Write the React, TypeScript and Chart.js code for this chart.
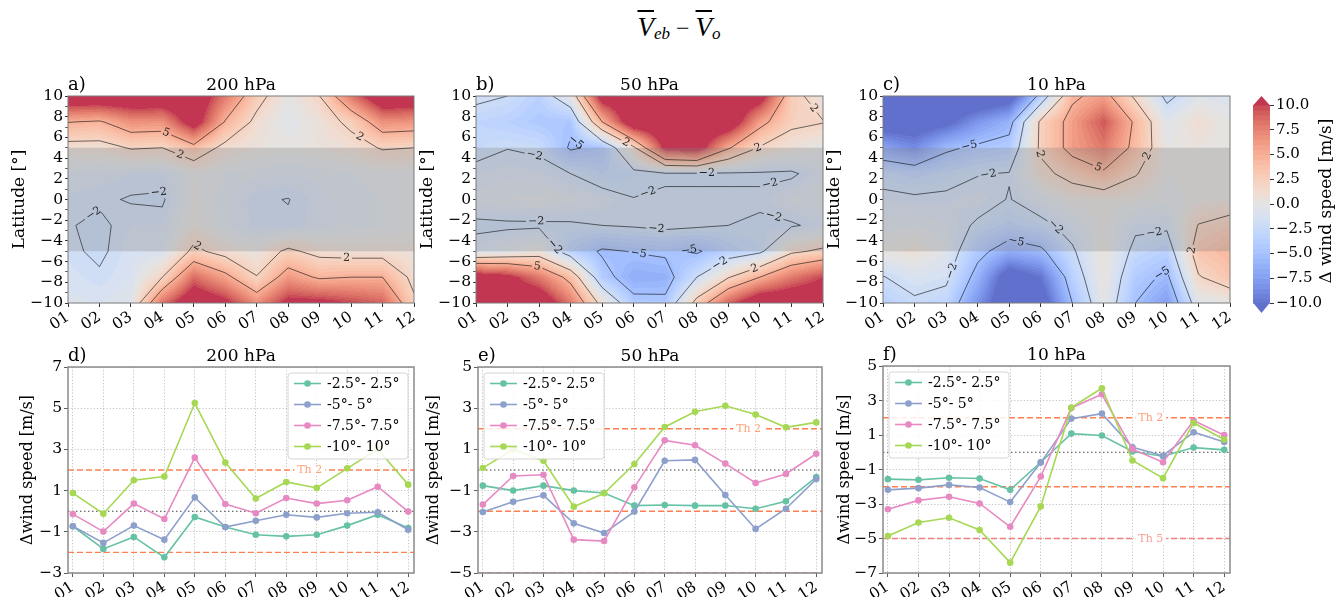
import React, { useEffect, useRef } from 'react';
import { Chart, registerables } from 'chart.js';

Chart.register(...registerables);
Chart.defaults.font.family = "'DejaVu Serif', serif";
Chart.defaults.color = '#000';

// ------------------------------------------------------------------ data
const MONTHS = [1, 2, 3, 4, 5, 6, 7, 8, 9, 10, 11, 12];
const MONTH_LABELS = ['01', '02', '03', '04', '05', '06', '07', '08', '09', '10', '11', '12'];
const LATITUDES = [-10, -7.5, -5, -2.5, 0, 2.5, 5, 7.5, 10];
const LATITUDE_TICKS = [-10, -9, -8, -7, -6, -5, -4, -3, -2, -1, 0, 1, 2, 3, 4, 5, 6, 7, 8, 9, 10];
const CONTOUR_LEVELS = [-5, -2, 2, 5];
const COLORBAR_TICKS = [-10, -7.5, -5, -2.5, 0, 2.5, 5, 7.5, 10];
const COLOR_MIN = -10;
const COLOR_MAX = 10;
const COLOR_STEP = 0.5;
const EQUATORIAL_BAND = [-5, 5];

// rows follow LATITUDES (south -> north), columns follow MONTHS
const FIELD_200HPA = [
  [-0.8, -1.0, -0.5, 8.4, 13, 11, 7, 11, 11, 10, 9, 2.5],
  [-1.2, -1.8, -1.0, 2.0, 8.6, 5.8, 2.1, 6.4, 4.6, 5.0, 5.0, 1.2],
  [-1.7, -2.3, -1.2, -1.0, 2.6, 1.0, 0.4, 2.5, 1.2, 0.9, 0.9, 0.8],
  [-1.9, -2.3, -1.5, -1.5, 0.5, -0.8, -1.7, -1.8, -1.2, -0.8, -0.5, -0.2],
  [-1.6, -1.8, -2.1, -2.2, 0.2, -0.8, -1.8, -2.05, -1.2, -0.8, -0.5, -0.5],
  [-1.0, -1.2, -1.5, -1.5, 0.0, -0.5, -0.8, -1.0, -0.8, -0.5, -0.3, -0.3],
  [1.0, 1.0, 2.2, 2.0, 4.0, 1.2, 0.5, 0.2, 0.5, 1.0, 2.2, 2.0],
  [5.1, 4.7, 6.9, 6.7, 12, 4.8, 1.3, -0.5, 0.8, 2.6, 6.9, 6.6],
  [13, 13, 13, 13, 13, 8, 3, 0.0, 2.0, 8.1, 13, 13],
];
const FIELD_50HPA = [
  [13, 13, 13, 8, 1, -4.2, -4.4, 3, 9, 13, 13, 13],
  [12, 11, 8, 4, -4, -6.5, -6.2, -2, 1.8, 5, 8, 10],
  [-1.2, -0.5, 0.5, -3.5, -5.3, -4.9, -4.6, -5.3, -3.5, -2.5, 1.5, 2.5],
  [-2.4, -2.3, -2.3, -2.2, -2.0, -1.8, -1.5, -1.7, -2.0, -2.2, -2.2, -1.5],
  [-0.8, -0.5, -0.3, -0.8, -1.2, -1.95, -1.8, -1.8, -1.8, -1.8, -0.8, -0.5],
  [-1.5, -1.2, -1.4, -2.0, -3.0, -2.6, -2.2, -2.2, -2.2, -2.2, -2.3, -1.0],
  [-2.6, -2.05, -2.3, -5.3, -4.5, 1.5, 11, 12, 5.3, 1.8, 0.8, 0.0],
  [-3.0, -3.5, -4.3, -4.5, 5, 13, 13, 13, 13, 6, 2.5, 2.1],
  [-1.5, -2.0, -3.5, 0, 12, 13, 13, 13, 13, 12, 3, 0.5],
];
const FIELD_10HPA = [
  [-3.5, -2.4, -3.0, -8, -13, -12, -5, 0, -5, -7.5, -0.5, 0],
  [-2.1, -1.0, -1.5, -6, -12, -10, -3.5, 0.5, -4, -5.5, 1.8, 3.5],
  [0.3, 0.8, -0.5, -4.2, -6.4, -5.5, -2.3, 0.5, -2.6, -3.5, 3.5, 4.5],
  [-0.8, -0.5, -1.0, -2.3, -3.2, -2.6, -1.2, 0.2, -1.6, -1.6, 2.1, 3.0],
  [-1.5, -1.7, -1.6, -1.2, -2.1, -0.8, 0.3, 0.5, 0.2, -0.3, 0.2, 0.5],
  [-2.75, -3.3, -2.8, -2.1, -1.9, 1.2, 3.0, 4.5, 2.2, 0.0, 0.2, 0.2],
  [-7.1, -8.6, -5.5, -4.5, -4.0, 2.5, 6.0, 8.0, 4.2, 0.0, 0.5, 0.0],
  [-12, -12, -11, -8, -6, 2.5, 6.0, 9.5, 4.5, -0.5, 1.2, 0.0],
  [-13, -13, -13, -13, -12, -4, 4.5, 6.0, 1.5, -2.6, -0.5, -1.0],
];

const SERIES_LABELS = ['-2.5°- 2.5°', '-5°- 5°', '-7.5°- 7.5°', '-10°- 10°'];

const HPA200_LAT2_5 = [-0.73, -1.83, -1.25, -2.24, -0.28, -0.77, -1.14, -1.22, -1.14, -0.70, -0.17, -0.82];
const HPA200_LAT5 = [-0.73, -1.54, -0.70, -1.38, 0.67, -0.77, -0.46, -0.17, -0.30, -0.10, -0.05, -0.90];
const HPA200_LAT7_5 = [-0.14, -0.99, 0.37, -0.38, 2.60, 0.35, -0.10, 0.64, 0.37, 0.53, 1.19, -0.02];
const HPA200_LAT10 = [0.88, -0.12, 1.50, 1.68, 5.25, 2.36, 0.62, 1.42, 1.13, 2.08, 3.02, 1.29];

const HPA50_LAT2_5 = [-0.76, -1.00, -0.76, -1.00, -1.12, -1.73, -1.70, -1.73, -1.72, -1.88, -1.52, -0.34];
const HPA50_LAT5 = [-2.04, -1.54, -1.23, -2.59, -3.06, -2.02, 0.45, 0.49, -1.21, -2.86, -1.88, -0.44];
const HPA50_LAT7_5 = [-1.68, -0.29, -0.23, -3.38, -3.45, -0.84, 1.44, 1.20, 0.31, -0.63, -0.19, 0.79];
const HPA50_LAT10 = [0.10, 0.99, 0.45, -1.78, -1.13, 0.29, 2.09, 2.83, 3.12, 2.69, 2.07, 2.31];

const HPA10_LAT2_5 = [-1.56, -1.60, -1.48, -1.52, -2.18, -0.58, 1.08, 0.97, 0.04, -0.23, 0.27, 0.14];
const HPA10_LAT5 = [-2.18, -2.08, -1.89, -2.04, -2.89, -0.60, 1.95, 2.24, 0.29, -0.20, 1.16, 0.60];
const HPA10_LAT7_5 = [-3.30, -2.79, -2.58, -2.97, -4.32, -1.41, 2.57, 3.36, 0.18, -0.58, 1.84, 0.99];
const HPA10_LAT10 = [-4.86, -4.07, -3.80, -4.51, -6.40, -3.14, 2.59, 3.71, -0.48, -1.50, 1.70, 0.74];

const THRESHOLDS_200HPA = [2, -2];
const THRESHOLDS_50HPA = [2, -2, -5];
const THRESHOLDS_10HPA = [2, -2, -5];
const TH_LABELS_200HPA = [{ value: 2, text: 'Th 2', at: 8.77 }];
const TH_LABELS_50HPA = [{ value: 2, text: 'Th 2', at: 9.77 }];
const TH_LABELS_10HPA = [{ value: 2, text: 'Th 2', at: 9.6 }, { value: -5, text: 'Th 5', at: 9.6 }];

// ------------------------------------------------------------------ style / layout
const SERIES_COLORS = ['#66c2a5', '#8da0cb', '#e78ac3', '#a6d854'];
const TH_COLOR = (v: number) => (Math.abs(v) === 2 ? '#ff7f50' : '#f08080');
const TH_TEXT_COLOR = (v: number) => (Math.abs(v) === 2 ? '#ffa07a' : '#f4a09a');
const X_MIN_LINE = 0.84;
const X_MAX_LINE = 12.19;
const FILL_ALPHA = 0.8;

const PAD_L = 75;
const PAD_T = 40;
const PAD_R = 15;
const PAD_B = 45;

const COOLWARM = [
  [59, 76, 192], [68, 90, 204], [77, 104, 215], [87, 117, 225], [98, 130, 234], [108, 142, 241],
  [119, 154, 247], [130, 165, 251], [141, 176, 254], [152, 185, 255], [163, 194, 255], [174, 201, 253],
  [184, 208, 249], [194, 213, 244], [204, 217, 238], [213, 219, 230], [221, 221, 221], [229, 216, 209],
  [236, 211, 197], [241, 204, 185], [245, 196, 173], [247, 187, 160], [247, 177, 148], [247, 166, 135],
  [244, 154, 123], [241, 141, 111], [236, 127, 99], [229, 112, 88], [222, 96, 77], [213, 80, 66],
  [203, 62, 56], [192, 40, 47], [180, 4, 38],
];

function coolwarm(t: number): number[] {
  const x = Math.max(0, Math.min(1, t)) * (COOLWARM.length - 1);
  const i = Math.min(COOLWARM.length - 2, Math.floor(x));
  const f = x - i;
  const a = COOLWARM[i], b = COOLWARM[i + 1];
  return [a[0] + (b[0] - a[0]) * f, a[1] + (b[1] - a[1]) * f, a[2] + (b[2] - a[2]) * f];
}

const N_BINS = Math.round((COLOR_MAX - COLOR_MIN) / COLOR_STEP);
function levelColor(v: number): number[] {
  let c: number[];
  if (v >= COLOR_MAX) c = coolwarm(1);
  else if (v < COLOR_MIN) c = coolwarm(0);
  else {
    const idx = Math.min(N_BINS - 1, Math.floor((v - COLOR_MIN) / COLOR_STEP));
    c = coolwarm((idx + 1) / (N_BINS + 1));
  }
  return c.map((ch) => Math.round(ch * FILL_ALPHA + 255 * (1 - FILL_ALPHA)));
}

const fmt = (v: number, digits = 0) => (v < 0 ? '\u2212' : '') + Math.abs(v).toFixed(digits);

function findCell(arr: number[], v: number): [number, number] {
  let i = 0;
  while (i < arr.length - 2 && v > arr[i + 1]) i++;
  const t = (v - arr[i]) / (arr[i + 1] - arr[i]);
  return [i, Math.max(0, Math.min(1, t))];
}

function sampleField(field: number[][], m: number, lat: number) {
  const [i, tx] = findCell(MONTHS, m);
  const [j, ty] = findCell(LATITUDES, lat);
  const a = field[j][i], b = field[j][i + 1], c = field[j + 1][i], d = field[j + 1][i + 1];
  return a * (1 - tx) * (1 - ty) + b * tx * (1 - ty) + c * (1 - tx) * ty + d * tx * ty;
}

type Pt = [number, number];

function contourSegments(field: number[][], level: number): [Pt, Pt][] {
  const segs: [Pt, Pt][] = [];
  const up = (v: number) => v >= level;
  const edge = (i1: number, j1: number, i2: number, j2: number): Pt => {
    const a = field[j1][i1], b = field[j2][i2];
    const t = (level - a) / (b - a);
    return [MONTHS[i1] + (MONTHS[i2] - MONTHS[i1]) * t, LATITUDES[j1] + (LATITUDES[j2] - LATITUDES[j1]) * t];
  };
  for (let j = 0; j < LATITUDES.length - 1; j++) {
    for (let i = 0; i < MONTHS.length - 1; i++) {
      const v00 = field[j][i], v10 = field[j][i + 1], v01 = field[j + 1][i], v11 = field[j + 1][i + 1];
      const eB = up(v00) !== up(v10) ? edge(i, j, i + 1, j) : null;
      const eR = up(v10) !== up(v11) ? edge(i + 1, j, i + 1, j + 1) : null;
      const eT = up(v01) !== up(v11) ? edge(i, j + 1, i + 1, j + 1) : null;
      const eL = up(v00) !== up(v01) ? edge(i, j, i, j + 1) : null;
      const list = [eB, eR, eT, eL].filter(Boolean) as Pt[];
      if (list.length === 2) segs.push([list[0], list[1]]);
      else if (list.length === 4) {
        const c = (v00 + v10 + v01 + v11) / 4;
        if (up(c) === up(v00)) {
          segs.push([eB as Pt, eR as Pt]);
          segs.push([eT as Pt, eL as Pt]);
        } else {
          segs.push([eB as Pt, eL as Pt]);
          segs.push([eR as Pt, eT as Pt]);
        }
      }
    }
  }
  return segs;
}

function chainSegments(segs: [Pt, Pt][]): Pt[][] {
  const key = (p: Pt) => p[0].toFixed(5) + ',' + p[1].toFixed(5);
  const map = new Map<string, number[]>();
  segs.forEach((s, i) => {
    s.forEach((p) => {
      const k = key(p);
      if (!map.has(k)) map.set(k, []);
      map.get(k)!.push(i);
    });
  });
  const used = segs.map(() => false);
  const lines: Pt[][] = [];
  const nextFrom = (p: Pt): Pt | null => {
    const cand = map.get(key(p)) || [];
    for (const idx of cand) {
      if (!used[idx]) {
        used[idx] = true;
        const s = segs[idx];
        return key(s[0]) === key(p) ? s[1] : s[0];
      }
    }
    return null;
  };
  const order = segs.map((_, i) => i).sort((a, b) => {
    const da = Math.min(...segs[a].map((p) => map.get(key(p))!.length));
    const db = Math.min(...segs[b].map((p) => map.get(key(p))!.length));
    return da - db;
  });
  for (const i of order) {
    if (used[i]) continue;
    used[i] = true;
    const line: Pt[] = [segs[i][0], segs[i][1]];
    let n = nextFrom(line[line.length - 1]);
    while (n) { line.push(n); n = nextFrom(n); }
    n = nextFrom(line[0]);
    while (n) { line.unshift(n); n = nextFrom(n); }
    lines.push(line);
  }
  return lines;
}

function strokeWithGaps(ctx: CanvasRenderingContext2D, pts: Pt[], gaps: [number, number][]) {
  let acc = 0;
  ctx.beginPath();
  for (let k = 0; k < pts.length - 1; k++) {
    const [x0, y0] = pts[k], [x1, y1] = pts[k + 1];
    const len = Math.hypot(x1 - x0, y1 - y0);
    if (len === 0) continue;
    let pieces: [number, number][] = [[acc, acc + len]];
    for (const [g0, g1] of gaps) {
      const out: [number, number][] = [];
      for (const [a, b] of pieces) {
        if (g1 <= a || g0 >= b) { out.push([a, b]); continue; }
        if (g0 > a) out.push([a, g0]);
        if (g1 < b) out.push([g1, b]);
      }
      pieces = out;
    }
    for (const [a, b] of pieces) {
      const ta = (a - acc) / len, tb = (b - acc) / len;
      ctx.moveTo(x0 + (x1 - x0) * ta, y0 + (y1 - y0) * ta);
      ctx.lineTo(x0 + (x1 - x0) * tb, y0 + (y1 - y0) * tb);
    }
    acc += len;
  }
  ctx.stroke();
}

// ------------------------------------------------------------------ plugins
function heatmapPlugin(field: number[][]) {
  return {
    id: 'heatmap',
    beforeDatasetsDraw(chart: any) {
      const { ctx, chartArea: ca, scales } = chart;
      const xs = scales.x, ys = scales.y;
      const L = Math.round(ca.left), T = Math.round(ca.top);
      const W = Math.round(ca.right) - L, H = Math.round(ca.bottom) - T;
      const img = ctx.createImageData(W, H);
      for (let py = 0; py < H; py++) {
        const lat = ys.getValueForPixel(T + py + 0.5);
        for (let px = 0; px < W; px++) {
          const m = xs.getValueForPixel(L + px + 0.5);
          const c = levelColor(sampleField(field, m, lat));
          const k = (py * W + px) * 4;
          img.data[k] = c[0]; img.data[k + 1] = c[1]; img.data[k + 2] = c[2]; img.data[k + 3] = 255;
        }
      }
      ctx.putImageData(img, L, T);

      ctx.save();
      ctx.beginPath();
      ctx.rect(ca.left, ca.top, ca.right - ca.left, ca.bottom - ca.top);
      ctx.clip();
      // equatorial band
      const yb1 = ys.getPixelForValue(EQUATORIAL_BAND[1]);
      const yb0 = ys.getPixelForValue(EQUATORIAL_BAND[0]);
      ctx.fillStyle = 'rgba(128,128,128,0.3)';
      ctx.fillRect(ca.left, yb1, ca.right - ca.left, yb0 - yb1);

      // contour lines + labels
      ctx.font = "11px 'DejaVu Serif'";
      ctx.textAlign = 'center';
      ctx.textBaseline = 'middle';
      const placed: Pt[] = [];
      for (const level of CONTOUR_LEVELS) {
        const lines = chainSegments(contourSegments(field, level));
        const text = fmt(level);
        const tw = ctx.measureText(text).width;
        for (const line of lines) {
          const pts: Pt[] = line.map((p) => [xs.getPixelForValue(p[0]), ys.getPixelForValue(p[1])] as Pt);
          const cum: number[] = [0];
          for (let k = 1; k < pts.length; k++) cum.push(cum[k - 1] + Math.hypot(pts[k][0] - pts[k - 1][0], pts[k][1] - pts[k - 1][1]));
          const total = cum[cum.length - 1];
          const gaps: [number, number][] = [];
          const labels: { x: number; y: number; a: number }[] = [];
          if (total > 30) {
            const n = Math.max(1, Math.floor(total / 120));
            for (let q = 0; q < n; q++) {
              const s = (total * (q + 0.5)) / n;
              let k = 0;
              while (k < cum.length - 2 && cum[k + 1] < s) k++;
              const segLen = cum[k + 1] - cum[k] || 1;
              const f = (s - cum[k]) / segLen;
              const x = pts[k][0] + (pts[k + 1][0] - pts[k][0]) * f;
              const y = pts[k][1] + (pts[k + 1][1] - pts[k][1]) * f;
              if (x < ca.left + 8 || x > ca.right - 8 || y < ca.top + 7 || y > ca.bottom - 7) continue;
              if (placed.some((p) => Math.hypot(p[0] - x, p[1] - y) < 26)) continue;
              let a = Math.atan2(pts[k + 1][1] - pts[k][1], pts[k + 1][0] - pts[k][0]);
              if (a > Math.PI / 2) a -= Math.PI;
              if (a < -Math.PI / 2) a += Math.PI;
              placed.push([x, y]);
              labels.push({ x, y, a });
              gaps.push([s - tw / 2 - 2, s + tw / 2 + 2]);
            }
          }
          ctx.strokeStyle = 'rgba(0,0,0,0.7)';
          ctx.lineWidth = 0.8;
          strokeWithGaps(ctx, pts, gaps);
          ctx.fillStyle = '#222';
          for (const lb of labels) {
            ctx.save();
            ctx.translate(lb.x, lb.y);
            ctx.rotate(lb.a);
            ctx.fillText(text, 0, 0);
            ctx.restore();
          }
        }
      }
      ctx.restore();
    },
  };
}

function framePlugin(color: string, width: number) {
  return {
    id: 'frame',
    afterDatasetsDraw(chart: any) {
      const { ctx, chartArea: ca } = chart;
      ctx.save();
      ctx.strokeStyle = color;
      ctx.lineWidth = width;
      ctx.strokeRect(ca.left, ca.top, ca.right - ca.left, ca.bottom - ca.top);
      ctx.restore();
    },
  };
}

function panelTitlePlugin(tag: string, title: string) {
  return {
    id: 'panelTitle',
    afterDraw(chart: any) {
      const { ctx, chartArea: ca } = chart;
      ctx.save();
      ctx.fillStyle = '#000';
      ctx.textBaseline = 'alphabetic';
      ctx.font = "17px 'DejaVu Serif'";
      ctx.textAlign = 'center';
      ctx.fillText(title, (ca.left + ca.right) / 2, ca.top - 6);
      ctx.textAlign = 'left';
      ctx.font = "18px 'DejaVu Serif'";
      ctx.fillText(tag, ca.left, ca.top - 6);
      ctx.restore();
    },
  };
}

function thresholdLabelPlugin(labels: { value: number; text: string; at: number }[]) {
  return {
    id: 'thLabels',
    afterDatasetsDraw(chart: any) {
      const { ctx, scales } = chart;
      ctx.save();
      ctx.font = "11px 'DejaVu Serif'";
      ctx.textAlign = 'center';
      ctx.textBaseline = 'middle';
      for (const lb of labels) {
        const x = scales.x.getPixelForValue(lb.at);
        const y = scales.y.getPixelForValue(lb.value);
        const w = ctx.measureText(lb.text).width;
        ctx.fillStyle = '#fff';
        ctx.fillRect(x - w / 2 - 3, y - 6, w + 6, 12);
        ctx.fillStyle = TH_TEXT_COLOR(lb.value);
        ctx.fillText(lb.text, x, y + 0.5);
      }
      ctx.restore();
    },
  };
}

function insetLegendPlugin(corner: 'left' | 'right') {
  return {
    id: 'insetLegend',
    afterDraw(chart: any) {
      const { ctx, chartArea: ca } = chart;
      const w = 120, h = 86, pad = 6;
      const x0 = corner === 'right' ? ca.right - pad - w : ca.left + pad;
      const y0 = ca.top + pad;
      ctx.save();
      ctx.beginPath();
      ctx.roundRect(x0, y0, w, h, 3);
      ctx.fillStyle = 'rgba(255,255,255,0.85)';
      ctx.fill();
      ctx.strokeStyle = '#d6d6d6';
      ctx.lineWidth = 1;
      ctx.stroke();
      ctx.font = "14px 'DejaVu Serif'";
      ctx.textAlign = 'left';
      ctx.textBaseline = 'middle';
      SERIES_LABELS.forEach((lab, k) => {
        const yy = y0 + 10.5 + k * 21;
        ctx.strokeStyle = SERIES_COLORS[k];
        ctx.lineWidth = 1.6;
        ctx.beginPath();
        ctx.moveTo(x0 + 6, yy);
        ctx.lineTo(x0 + 33, yy);
        ctx.stroke();
        ctx.fillStyle = SERIES_COLORS[k];
        ctx.beginPath();
        ctx.arc(x0 + 19.5, yy, 3.3, 0, Math.PI * 2);
        ctx.fill();
        ctx.fillStyle = '#000';
        ctx.fillText(lab, x0 + 39, yy + 1);
      });
      ctx.restore();
    },
  };
}

function colorbarPlugin() {
  return {
    id: 'colorbar',
    beforeDatasetsDraw(chart: any) {
      const { ctx, chartArea: ca, scales } = chart;
      const y = scales.y;
      ctx.save();
      for (let k = 0; k < N_BINS; k++) {
        const lo = COLOR_MIN + k * COLOR_STEP;
        const hi = lo + COLOR_STEP;
        const c = levelColor(lo + COLOR_STEP / 2);
        const y1 = y.getPixelForValue(hi), y0 = y.getPixelForValue(lo);
        ctx.fillStyle = `rgb(${c[0]},${c[1]},${c[2]})`;
        ctx.fillRect(ca.left, y1, ca.right - ca.left, y0 - y1 + 0.6);
      }
      const mid = (ca.left + ca.right) / 2;
      const top = levelColor(COLOR_MAX + 1), bot = levelColor(COLOR_MIN - 1);
      ctx.fillStyle = `rgb(${top[0]},${top[1]},${top[2]})`;
      ctx.beginPath();
      ctx.moveTo(ca.left, ca.top + 0.5);
      ctx.lineTo(ca.right, ca.top + 0.5);
      ctx.lineTo(mid, ca.top - 9);
      ctx.closePath();
      ctx.fill();
      ctx.fillStyle = `rgb(${bot[0]},${bot[1]},${bot[2]})`;
      ctx.beginPath();
      ctx.moveTo(ca.left, ca.bottom - 0.5);
      ctx.lineTo(ca.right, ca.bottom - 0.5);
      ctx.lineTo(mid, ca.bottom + 10);
      ctx.closePath();
      ctx.fill();
      ctx.translate(ca.right + 57, (ca.top + ca.bottom) / 2 - 3);
      ctx.rotate(-Math.PI / 2);
      ctx.fillStyle = '#000';
      ctx.font = "17px 'DejaVu Serif'";
      ctx.textAlign = 'center';
      ctx.textBaseline = 'middle';
      ctx.fillText('\u0394 wind speed [m/s]', 0, 0);
      ctx.restore();
    },
  };
}

// ------------------------------------------------------------------ panel specs
type Plot = { l: number; t: number; r: number; b: number };

const TOP_PANELS = [
  { tag: 'a)', title: '200 hPa', field: FIELD_200HPA, plot: { l: 68, t: 96, r: 414, b: 303 }, yTitleShift: 48 },
  { tag: 'b)', title: '50 hPa', field: FIELD_50HPA, plot: { l: 476, t: 96, r: 823, b: 303 }, yTitleShift: 48 },
  { tag: 'c)', title: '10 hPa', field: FIELD_10HPA, plot: { l: 883, t: 96, r: 1230, b: 303 }, yTitleShift: 48 },
];

const BOTTOM_PANELS = [
  {
    tag: 'd)', title: '200 hPa', series: [HPA200_LAT2_5, HPA200_LAT5, HPA200_LAT7_5, HPA200_LAT10],
    yMin: -3, yMax: 7, thresholds: THRESHOLDS_200HPA, thLabels: TH_LABELS_200HPA, legend: 'right' as const,
    plot: { l: 68, t: 367, r: 414, b: 573 }, yTitleShift: 40,
  },
  {
    tag: 'e)', title: '50 hPa', series: [HPA50_LAT2_5, HPA50_LAT5, HPA50_LAT7_5, HPA50_LAT10],
    yMin: -5, yMax: 5, thresholds: THRESHOLDS_50HPA, thLabels: TH_LABELS_50HPA, legend: 'left' as const,
    plot: { l: 478, t: 367, r: 822, b: 573 }, yTitleShift: 44,
  },
  {
    tag: 'f)', title: '10 hPa', series: [HPA10_LAT2_5, HPA10_LAT5, HPA10_LAT7_5, HPA10_LAT10],
    yMin: -7, yMax: 5, thresholds: THRESHOLDS_10HPA, thLabels: TH_LABELS_10HPA, legend: 'left' as const,
    plot: { l: 883, t: 366, r: 1230, b: 573 }, yTitleShift: 38,
  },
];

const COLORBAR_BOX = { left: 1240, top: 80, width: 98, height: 240 };
const COLORBAR_PAD = { left: 13, top: 25, right: 0, bottom: 17 };

function canvasBox(p: Plot) {
  return { left: p.l - PAD_L, top: p.t - PAD_T, width: p.r - p.l + PAD_L + PAD_R, height: p.b - p.t + PAD_T + PAD_B };
}

const TICK_FONT = { size: 15.5, family: "'DejaVu Serif', serif" };

function topConfig(spec: typeof TOP_PANELS[number]): any {
  return {
    type: 'scatter',
    data: { datasets: [] },
    plugins: [heatmapPlugin(spec.field), framePlugin('#7a7a7a', 1), panelTitlePlugin(spec.tag, spec.title)],
    options: {
      animation: false,
      responsive: false,
      devicePixelRatio: 1,
      layout: { padding: { left: 0, top: PAD_T, right: PAD_R, bottom: 0 } },
      plugins: { legend: { display: false }, tooltip: { enabled: false }, title: { display: false } },
      events: [],
      scales: {
        x: {
          type: 'linear', min: 1, max: 12,
          afterBuildTicks: (s: any) => { s.ticks = MONTHS.map((value) => ({ value })); },
          afterFit: (s: any) => { s.height = PAD_B; },
          ticks: {
            autoSkip: false, maxRotation: 33, minRotation: 33, padding: 1, font: TICK_FONT, color: '#000',
            callback: (v: number) => MONTH_LABELS[Math.round(v) - 1],
          },
          grid: { display: true, drawOnChartArea: false, drawTicks: true, tickLength: 4, tickColor: '#333' },
          border: { display: false },
        },
        y: {
          type: 'linear', min: -10, max: 10,
          afterBuildTicks: (s: any) => { s.ticks = LATITUDE_TICKS.map((value) => ({ value })); },
          afterFit: (s: any) => { s.width = PAD_L; },
          ticks: {
            autoSkip: false, padding: 2, font: TICK_FONT, color: '#000',
            callback: (v: number) => (v % 2 === 0 ? fmt(v) : ''),
          },
          grid: {
            display: true, drawOnChartArea: false, drawTicks: true, tickLength: 3,
            tickColor: (c: any) => (c.tick && c.tick.value % 2 === 0 ? '#333' : '#666'),
          },
          border: { display: false },
          title: {
            display: true, text: 'Latitude [°]', font: { size: 17, family: "'DejaVu Serif', serif" }, color: '#000',
            padding: { top: PAD_L - spec.yTitleShift - 10.2, bottom: 0 },
          },
        },
      },
    },
  };
}

function bottomConfig(spec: typeof BOTTOM_PANELS[number]): any {
  const seriesSets = spec.series.map((vals, k) => ({
    label: SERIES_LABELS[k],
    data: MONTHS.map((m, i) => ({ x: m, y: vals[i] })),
    borderColor: SERIES_COLORS[k],
    backgroundColor: SERIES_COLORS[k],
    borderWidth: 1.6,
    pointRadius: 3.3,
    pointHoverRadius: 3.3,
    pointBorderWidth: 0,
    tension: 0,
    order: 4 - k,
  }));
  const thSets = spec.thresholds.map((th) => ({
    data: [{ x: X_MIN_LINE, y: th }, { x: X_MAX_LINE, y: th }],
    borderColor: TH_COLOR(th),
    borderWidth: 1.4,
    borderDash: [6, 3],
    pointRadius: 0,
    order: 10,
  }));
  const zeroSet = {
    data: [{ x: X_MIN_LINE, y: 0 }, { x: X_MAX_LINE, y: 0 }],
    borderColor: '#444',
    borderWidth: 1.1,
    borderDash: [1.5, 2.5],
    pointRadius: 0,
    order: 11,
  };
  return {
    type: 'line',
    data: { datasets: [...seriesSets, ...thSets, zeroSet] },
    plugins: [
      thresholdLabelPlugin(spec.thLabels),
      framePlugin('#8a8a8a', 1.5),
      panelTitlePlugin(spec.tag, spec.title),
      insetLegendPlugin(spec.legend),
    ],
    options: {
      animation: false,
      responsive: false,
      devicePixelRatio: 1,
      layout: { padding: { left: 0, top: PAD_T, right: PAD_R, bottom: 0 } },
      plugins: { legend: { display: false }, tooltip: { enabled: false }, title: { display: false } },
      events: [],
      scales: {
        x: {
          type: 'linear', min: X_MIN_LINE, max: X_MAX_LINE,
          afterBuildTicks: (s: any) => { s.ticks = MONTHS.map((value) => ({ value })); },
          afterFit: (s: any) => { s.height = PAD_B; },
          ticks: {
            autoSkip: false, maxRotation: 33, minRotation: 33, padding: 1, font: TICK_FONT, color: '#000',
            callback: (v: number) => MONTH_LABELS[Math.round(v) - 1],
          },
          grid: { color: '#b4b4b4', lineWidth: 0.8, drawTicks: true, tickLength: 4, tickColor: '#333' },
          border: { display: false, dash: [1.2, 2] },
        },
        y: {
          type: 'linear', min: spec.yMin, max: spec.yMax,
          afterBuildTicks: (s: any) => {
            const t = [];
            for (let v = spec.yMin; v <= spec.yMax; v += 2) t.push({ value: v });
            s.ticks = t;
          },
          afterFit: (s: any) => { s.width = PAD_L; },
          ticks: { autoSkip: false, padding: 2, font: TICK_FONT, color: '#000', callback: (v: number) => fmt(v) },
          grid: { color: '#b4b4b4', lineWidth: 0.8, drawTicks: true, tickLength: 4, tickColor: '#333' },
          border: { display: false, dash: [1.2, 2] },
          title: {
            display: true, text: '\u0394wind speed [m/s]', font: { size: 16, family: "'DejaVu Serif', serif" }, color: '#000',
            padding: { top: PAD_L - spec.yTitleShift - 9.6, bottom: 0 },
          },
        },
      },
    },
  };
}

function colorbarConfig(): any {
  return {
    type: 'scatter',
    data: { datasets: [] },
    plugins: [colorbarPlugin()],
    options: {
      animation: false,
      responsive: false,
      devicePixelRatio: 1,
      events: [],
      layout: { padding: COLORBAR_PAD },
      plugins: { legend: { display: false }, tooltip: { enabled: false } },
      scales: {
        x: { type: 'linear', min: 0, max: 1, display: false },
        y: {
          type: 'linear', position: 'right', min: COLOR_MIN, max: COLOR_MAX,
          afterBuildTicks: (s: any) => { s.ticks = COLORBAR_TICKS.map((value) => ({ value })); },
          afterFit: (s: any) => { s.width = COLORBAR_BOX.width - COLORBAR_PAD.left - 17; },
          ticks: { autoSkip: false, padding: 2, font: { size: 15, family: "'DejaVu Serif', serif" }, color: '#000', callback: (v: number) => fmt(v, 1) },
          grid: { display: true, drawOnChartArea: false, drawTicks: true, tickLength: 4, tickColor: '#333' },
          border: { display: false },
        },
      },
    },
  };
}

// ------------------------------------------------------------------ components
function ChartCanvas({ box, makeConfig }: { box: { left: number; top: number; width: number; height: number }; makeConfig: () => any }) {
  const ref = useRef<HTMLCanvasElement>(null);
  useEffect(() => {
    const chart = new Chart(ref.current as HTMLCanvasElement, makeConfig());
    return () => chart.destroy();
  }, []);
  return (
    <div style={{ position: 'absolute', left: box.left, top: box.top, width: box.width, height: box.height }}>
      <canvas ref={ref} width={box.width} height={box.height} style={{ width: box.width, height: box.height, display: 'block' }} />
    </div>
  );
}

export default function App() {
  const sub = { fontSize: 17, verticalAlign: '-0.2em' } as React.CSSProperties;
  return (
    <div style={{ position: 'fixed', left: 0, top: 0, width: 1338, height: 597, background: '#fff', overflow: 'hidden' }}>
      <div
        style={{
          position: 'absolute', left: 10, top: 12, width: 1338, textAlign: 'center',
          fontFamily: "'Liberation Serif', 'DejaVu Serif', serif", fontSize: 27, lineHeight: '30px', fontStyle: 'italic',
        }}
      >
        <span style={{ textDecoration: 'overline' }}>V</span>
        <span style={sub}>eb</span>
        <span style={{ fontStyle: 'normal', fontSize: 24 }}>{' \u2212 '}</span>
        <span style={{ textDecoration: 'overline' }}>V</span>
        <span style={sub}>o</span>
      </div>
      {TOP_PANELS.map((p) => (
        <ChartCanvas key={p.tag} box={canvasBox(p.plot)} makeConfig={() => topConfig(p)} />
      ))}
      {BOTTOM_PANELS.map((p) => (
        <ChartCanvas key={p.tag} box={canvasBox(p.plot)} makeConfig={() => bottomConfig(p)} />
      ))}
      <ChartCanvas box={COLORBAR_BOX} makeConfig={colorbarConfig} />
    </div>
  );
}
